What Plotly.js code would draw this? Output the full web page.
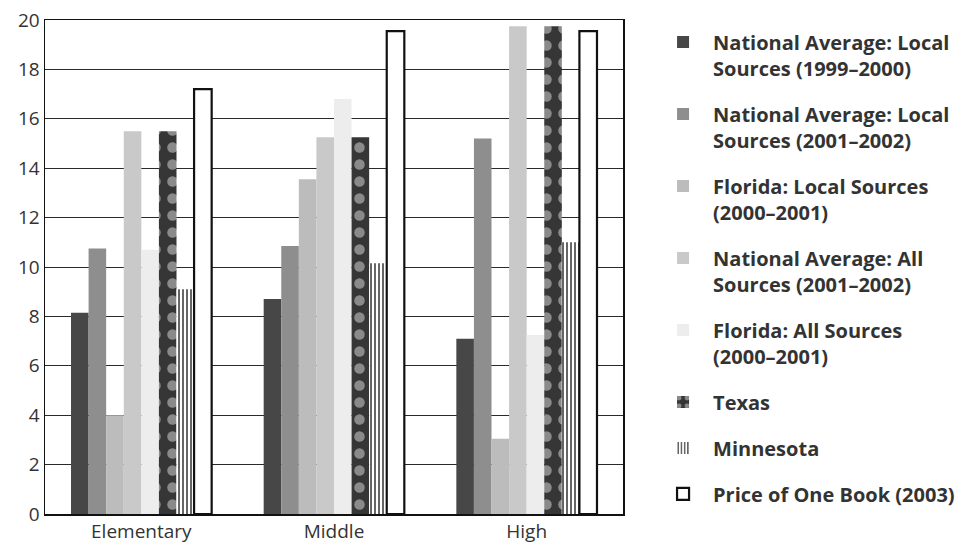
<!DOCTYPE html>
<html>
<head>
<meta charset="utf-8">
<script src="https://cdn.plot.ly/plotly-3.0.1.min.js"></script>
<style>html,body{margin:0;padding:0;background:#fff;}#chart{width:977px;height:558px;}</style>
</head>
<body>
<div id="chart"></div>
<script>
const categories = ["Elementary", "Middle", "High"];
const seriesNames = [
  "National Average: Local<br>Sources (1999\u20132000)",
  "National Average: Local<br>Sources (2001\u20132002)",
  "Florida: Local Sources<br>(2000\u20132001)",
  "National Average: All<br>Sources (2001\u20132002)",
  "Florida: All Sources<br>(2000\u20132001)",
  "Texas",
  "Minnesota",
  "Price of One Book (2003)"
];
const natLocal9900 = [8.15, 8.7, 7.1];
const natLocal0102 = [10.75, 10.85, 15.2];
const flLocal0001 = [4.0, 13.55, 3.05];
const natAll0102 = [15.5, 15.25, 19.75];
const flAll0001 = [10.7, 16.8, 7.25];
const texas = [15.5, 15.25, 19.75];
const minnesota = [9.1, 10.15, 11.0];
const bookPrice = [17.2, 19.55, 19.55];

const values = [natLocal9900, natLocal0102, flLocal0001, natAll0102, flAll0001, texas, minnesota, bookPrice];

const markers = [
  {color: "#474747"},
  {color: "#8e8e8e"},
  {color: "#bcbcbc"},
  {color: "#c9c9c9"},
  {color: "#ededed"},
  {color: "#3a3a3a", pattern: {shape: ".", fgcolor: "#8a8a8a", bgcolor: "#363636", size: 17, solidity: 0.3, fillmode: "replace"}},
  {color: "#ffffff", pattern: {shape: "|", fgcolor: "#555555", bgcolor: "#ffffff", size: 4, solidity: 0.45, fillmode: "replace"}},
  {color: "#ffffff", line: {color: "#111111", width: 2.2}}
];

const traces = values.map((v, i) => ({
  type: "bar",
  x: categories,
  y: v,
  name: seriesNames[i],
  legendgroup: "g" + i,
  marker: markers[i],
  hoverinfo: "x+y"
}));

const layout = {
  width: 977,
  height: 558,
  margin: {l: 45, r: 354, t: 20, b: 44},
  paper_bgcolor: "#ffffff",
  plot_bgcolor: "#ffffff",
  font: {family: "Open Sans, Noto Sans, sans-serif", color: "#333333"},
  barmode: "group",
  bargap: 0.27,
  bargroupgap: 0,
  showlegend: true,
  legend: {
    x: 1.052, y: 0.995, xanchor: "left", yanchor: "top",
    font: {size: 20, color: "#333333", weight: "bold", family: "Open Sans, Noto Sans, sans-serif"},
    valign: "top",
    itemwidth: 50,
    tracegroupgap: 17,
    bgcolor: "rgba(0,0,0,0)"
  },
  xaxis: {
    type: "category",
    showline: true, linecolor: "#111111", linewidth: 1.5, mirror: true,
    ticks: "", showgrid: false,
    tickfont: {size: 19, color: "#333333"}
  },
  yaxis: {
    range: [0, 20], dtick: 2, tick0: 0,
    showline: true, linecolor: "#111111", linewidth: 1.5, mirror: true,
    showgrid: true, gridcolor: "#2a2a2a", gridwidth: 1,
    zeroline: false, ticks: "",
    tickfont: {size: 19, color: "#333333"}
  }
};

Plotly.newPlot("chart", traces, layout, {displayModeBar: false, staticPlot: true});
</script>
</body>
</html>
